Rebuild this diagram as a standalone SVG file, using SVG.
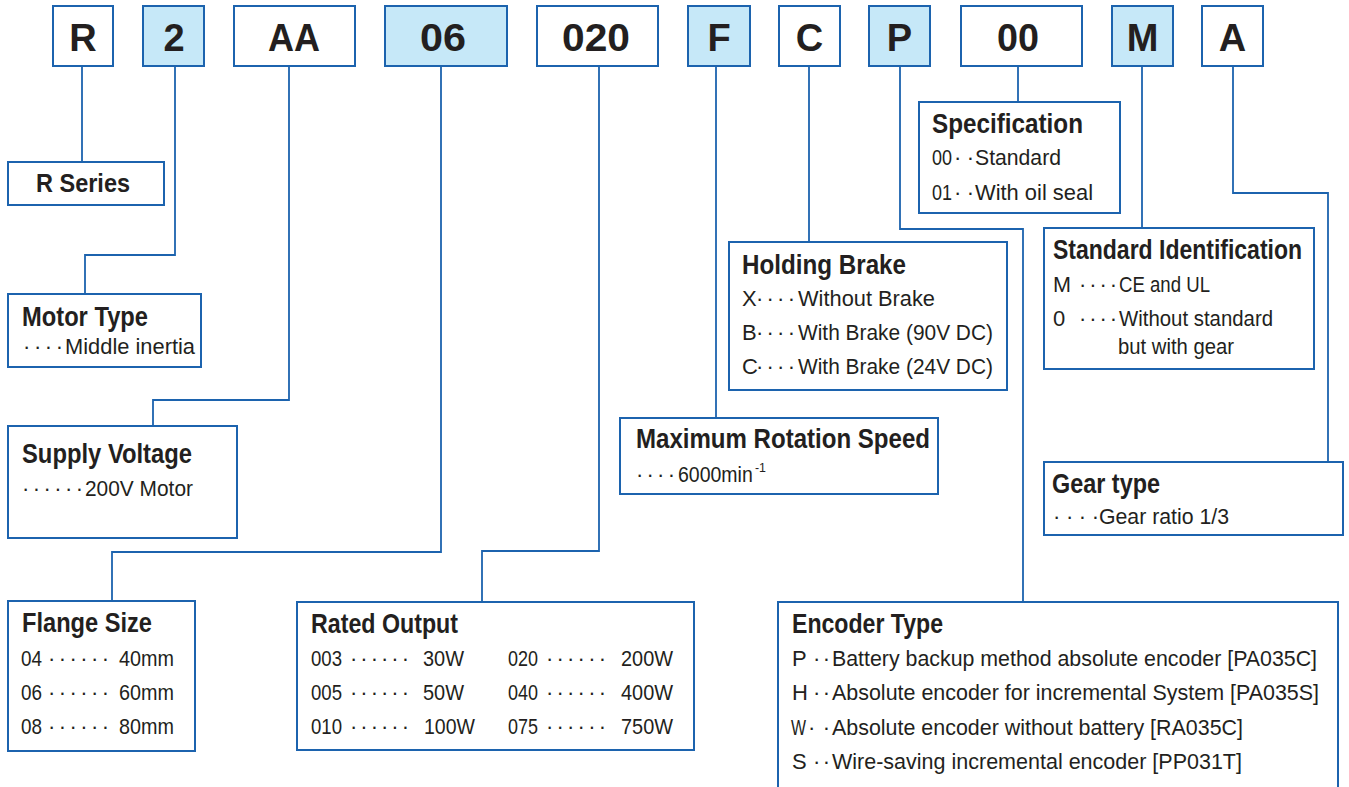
<svg xmlns="http://www.w3.org/2000/svg" width="1349" height="787" viewBox="0 0 1349 787">
<style>
  .bx{fill:#ffffff;stroke:#1c63ae;stroke-width:2}
  .hl{fill:#c6e8f8}
  .ln{fill:none;stroke:#1c63ae;stroke-width:1.8}
  text{font-family:"Liberation Sans Narrow","Liberation Sans",Arial,sans-serif;fill:#231f20}
  .code{font-size:38px;font-weight:bold;text-anchor:middle}
  .t{font-size:28px;font-weight:bold}
  .b{font-size:22px}
  .sup{font-size:12px}
</style>
<rect width="1349" height="787" fill="#ffffff"/>

<g id="connectors">
  <path class="ln" d="M82 66V162"/>
  <path class="ln" d="M175 66V255H85V294"/>
  <path class="ln" d="M289 66V400H153V426"/>
  <path class="ln" d="M441 66V552H112V601"/>
  <path class="ln" d="M599 66V551H482V602"/>
  <path class="ln" d="M716 66V418"/>
  <path class="ln" d="M809 66V242"/>
  <path class="ln" d="M900 66V229H1023V602"/>
  <path class="ln" d="M1018 66V102"/>
  <path class="ln" d="M1142 66V228"/>
  <path class="ln" d="M1233 66V193H1328V462"/>
</g>

<g id="code-R"><rect class="bx" x="53" y="6" width="60" height="60"/><text class="code" x="83" y="51">R</text></g>
<g id="code-2"><rect class="bx hl" x="143" y="6" width="61" height="60"/><text class="code" x="174" y="51">2</text></g>
<g id="code-AA"><rect class="bx" x="234" y="6" width="121" height="60"/><text class="code" x="294" y="51" textLength="52" lengthAdjust="spacingAndGlyphs">AA</text></g>
<g id="code-06"><rect class="bx hl" x="385" y="6" width="122" height="60"/><text class="code" x="443" y="51" textLength="46" lengthAdjust="spacingAndGlyphs">06</text></g>
<g id="code-020"><rect class="bx" x="537" y="6" width="121" height="60"/><text class="code" x="596" y="51" textLength="68" lengthAdjust="spacingAndGlyphs">020</text></g>
<g id="code-F"><rect class="bx hl" x="688" y="6" width="62" height="60"/><text class="code" x="719" y="51">F</text></g>
<g id="code-C"><rect class="bx" x="779" y="6" width="61" height="60"/><text class="code" x="809.5" y="51">C</text></g>
<g id="code-P"><rect class="bx hl" x="869" y="6" width="61" height="60"/><text class="code" x="899.5" y="51">P</text></g>
<g id="code-00"><rect class="bx" x="961" y="6" width="121" height="60"/><text class="code" x="1018" y="51" textLength="42" lengthAdjust="spacingAndGlyphs">00</text></g>
<g id="code-M"><rect class="bx hl" x="1112" y="6" width="61" height="60"/><text class="code" x="1142.5" y="51">M</text></g>
<g id="code-A"><rect class="bx" x="1202" y="6" width="61" height="60"/><text class="code" x="1232.5" y="51">A</text></g>

<g id="r-series">
  <rect class="bx" x="8" y="162" width="156" height="43"/>
  <text class="t" x="36" y="192" style="font-size:25px" textLength="94" lengthAdjust="spacingAndGlyphs">R Series</text>
</g>

<g id="motor-type">
  <rect class="bx" x="8" y="294" width="193" height="73"/>
  <text class="t" x="22" y="326" textLength="126" lengthAdjust="spacingAndGlyphs">Motor Type</text>
  <text class="b" x="23" y="354" textLength="40" lengthAdjust="spacing">····</text>
  <text class="b" x="65" y="354" textLength="130" lengthAdjust="spacingAndGlyphs">Middle inertia</text>
</g>

<g id="supply-voltage">
  <rect class="bx" x="8" y="426" width="229" height="112"/>
  <text class="t" x="22" y="463" textLength="170" lengthAdjust="spacingAndGlyphs">Supply Voltage</text>
  <text class="b" x="22" y="496" textLength="61" lengthAdjust="spacing">······</text>
  <text class="b" x="85" y="496" textLength="108" lengthAdjust="spacingAndGlyphs">200V Motor</text>
</g>

<g id="flange-size">
  <rect class="bx" x="8" y="601" width="187" height="150"/>
  <text class="t" x="22" y="632" textLength="130" lengthAdjust="spacingAndGlyphs">Flange Size</text>
  <text class="b" x="21" y="666" textLength="21" lengthAdjust="spacingAndGlyphs">04</text>
  <text class="b" x="48" y="666" textLength="61" lengthAdjust="spacing">······</text>
  <text class="b" x="119" y="666" textLength="55" lengthAdjust="spacingAndGlyphs">40mm</text>
  <text class="b" x="21" y="700" textLength="21" lengthAdjust="spacingAndGlyphs">06</text>
  <text class="b" x="48" y="700" textLength="61" lengthAdjust="spacing">······</text>
  <text class="b" x="119" y="700" textLength="55" lengthAdjust="spacingAndGlyphs">60mm</text>
  <text class="b" x="21" y="734" textLength="21" lengthAdjust="spacingAndGlyphs">08</text>
  <text class="b" x="48" y="734" textLength="61" lengthAdjust="spacing">······</text>
  <text class="b" x="119" y="734" textLength="55" lengthAdjust="spacingAndGlyphs">80mm</text>
</g>

<g id="rated-output">
  <rect class="bx" x="297" y="602" width="397" height="148"/>
  <text class="t" x="311" y="633" textLength="147" lengthAdjust="spacingAndGlyphs">Rated Output</text>
  <text class="b" x="311" y="666" textLength="31" lengthAdjust="spacingAndGlyphs">003</text>
  <text class="b" x="350" y="666" textLength="59" lengthAdjust="spacing">······</text>
  <text class="b" x="423" y="666" textLength="41" lengthAdjust="spacingAndGlyphs">30W</text>
  <text class="b" x="311" y="700" textLength="31" lengthAdjust="spacingAndGlyphs">005</text>
  <text class="b" x="350" y="700" textLength="59" lengthAdjust="spacing">······</text>
  <text class="b" x="423" y="700" textLength="41" lengthAdjust="spacingAndGlyphs">50W</text>
  <text class="b" x="311" y="734" textLength="31" lengthAdjust="spacingAndGlyphs">010</text>
  <text class="b" x="350" y="734" textLength="59" lengthAdjust="spacing">······</text>
  <text class="b" x="424" y="734" textLength="51" lengthAdjust="spacingAndGlyphs">100W</text>
  <text class="b" x="508" y="666" textLength="30" lengthAdjust="spacingAndGlyphs">020</text>
  <text class="b" x="546" y="666" textLength="60" lengthAdjust="spacing">······</text>
  <text class="b" x="621" y="666" textLength="52" lengthAdjust="spacingAndGlyphs">200W</text>
  <text class="b" x="508" y="700" textLength="30" lengthAdjust="spacingAndGlyphs">040</text>
  <text class="b" x="546" y="700" textLength="60" lengthAdjust="spacing">······</text>
  <text class="b" x="621" y="700" textLength="52" lengthAdjust="spacingAndGlyphs">400W</text>
  <text class="b" x="508" y="734" textLength="30" lengthAdjust="spacingAndGlyphs">075</text>
  <text class="b" x="546" y="734" textLength="60" lengthAdjust="spacing">······</text>
  <text class="b" x="621" y="734" textLength="52" lengthAdjust="spacingAndGlyphs">750W</text>
</g>

<g id="holding-brake">
  <rect class="bx" x="729" y="242" width="278" height="148"/>
  <text class="t" x="742" y="274" textLength="164" lengthAdjust="spacingAndGlyphs">Holding Brake</text>
  <text class="b" x="742" y="306">X</text>
  <text class="b" x="756" y="306" textLength="39" lengthAdjust="spacing">····</text>
  <text class="b" x="798" y="306" textLength="137" lengthAdjust="spacingAndGlyphs">Without Brake</text>
  <text class="b" x="742" y="340">B</text>
  <text class="b" x="756" y="340" textLength="39" lengthAdjust="spacing">····</text>
  <text class="b" x="798" y="340" textLength="195" lengthAdjust="spacingAndGlyphs">With Brake (90V DC)</text>
  <text class="b" x="742" y="374">C</text>
  <text class="b" x="756" y="374" textLength="39" lengthAdjust="spacing">····</text>
  <text class="b" x="798" y="374" textLength="195" lengthAdjust="spacingAndGlyphs">With Brake (24V DC)</text>
</g>

<g id="max-rotation-speed">
  <rect class="bx" x="620" y="418" width="318" height="76"/>
  <text class="t" x="636" y="448" textLength="294" lengthAdjust="spacingAndGlyphs">Maximum Rotation Speed</text>
  <text class="b" x="636" y="482" textLength="39" lengthAdjust="spacing">····</text>
  <text class="b" transform="translate(678 482) scale(0.88 1)" x="0" y="0" textLength="85" lengthAdjust="spacingAndGlyphs">6000min</text>
  <text class="sup" x="755" y="472" textLength="11" lengthAdjust="spacingAndGlyphs">-1</text>
</g>

<g id="specification">
  <rect class="bx" x="919" y="102" width="201" height="111"/>
  <text class="t" x="932" y="133" textLength="151" lengthAdjust="spacingAndGlyphs">Specification</text>
  <text class="b" x="932" y="165" textLength="20" lengthAdjust="spacingAndGlyphs">00</text>
  <text class="b" x="954" y="165" textLength="20" lengthAdjust="spacing">··</text>
  <text class="b" x="975" y="165" textLength="86" lengthAdjust="spacingAndGlyphs">Standard</text>
  <text class="b" x="932" y="200" textLength="20" lengthAdjust="spacingAndGlyphs">01</text>
  <text class="b" x="954" y="200" textLength="20" lengthAdjust="spacing">··</text>
  <text class="b" x="975" y="200" textLength="118" lengthAdjust="spacingAndGlyphs">With oil seal</text>
</g>

<g id="standard-identification">
  <rect class="bx" x="1044" y="228" width="270" height="141"/>
  <text class="t" transform="translate(1053 259) scale(0.82 1)" x="0" y="0" textLength="303.7" lengthAdjust="spacingAndGlyphs">Standard Identification</text>
  <text class="b" x="1053" y="292" textLength="18" lengthAdjust="spacingAndGlyphs">M</text>
  <text class="b" x="1079" y="292" textLength="38" lengthAdjust="spacing">····</text>
  <text class="b" x="1119" y="292" textLength="91" lengthAdjust="spacingAndGlyphs">CE and UL</text>
  <text class="b" x="1053" y="326">0</text>
  <text class="b" x="1079" y="326" textLength="38" lengthAdjust="spacing">····</text>
  <text class="b" x="1119" y="326" textLength="154" lengthAdjust="spacingAndGlyphs">Without standard</text>
  <text class="b" x="1118" y="354" textLength="116" lengthAdjust="spacingAndGlyphs">but with gear</text>
</g>

<g id="gear-type">
  <rect class="bx" x="1044" y="462" width="299" height="73"/>
  <text class="t" x="1052" y="493" textLength="108" lengthAdjust="spacingAndGlyphs">Gear type</text>
  <text class="b" x="1053" y="524" textLength="46" lengthAdjust="spacing">····</text>
  <text class="b" x="1099" y="524" textLength="130" lengthAdjust="spacingAndGlyphs">Gear ratio 1/3</text>
</g>

<g id="encoder-type">
  <rect class="bx" x="778" y="602" width="560" height="200"/>
  <text class="t" x="792" y="633" textLength="151" lengthAdjust="spacingAndGlyphs">Encoder Type</text>
  <text class="b" x="792" y="666">P</text>
  <text class="b" x="813" y="666" textLength="17" lengthAdjust="spacing">··</text>
  <text class="b" x="832" y="666" textLength="485" lengthAdjust="spacingAndGlyphs">Battery backup method absolute encoder [PA035C]</text>
  <text class="b" x="792" y="700">H</text>
  <text class="b" x="813" y="700" textLength="17" lengthAdjust="spacing">··</text>
  <text class="b" x="832" y="700" textLength="487" lengthAdjust="spacingAndGlyphs">Absolute encoder for incremental System [PA035S]</text>
  <text class="b" transform="translate(791 735) scale(0.74 1)" x="0" y="0" textLength="20.3" lengthAdjust="spacingAndGlyphs">W</text>
  <text class="b" x="808" y="735" textLength="22" lengthAdjust="spacing">··</text>
  <text class="b" x="832" y="735" textLength="411" lengthAdjust="spacingAndGlyphs">Absolute encoder without battery [RA035C]</text>
  <text class="b" x="792" y="769">S</text>
  <text class="b" x="813" y="769" textLength="17" lengthAdjust="spacing">··</text>
  <text class="b" x="832" y="769" textLength="410" lengthAdjust="spacingAndGlyphs">Wire-saving incremental encoder [PP031T]</text>
</g>
</svg>
